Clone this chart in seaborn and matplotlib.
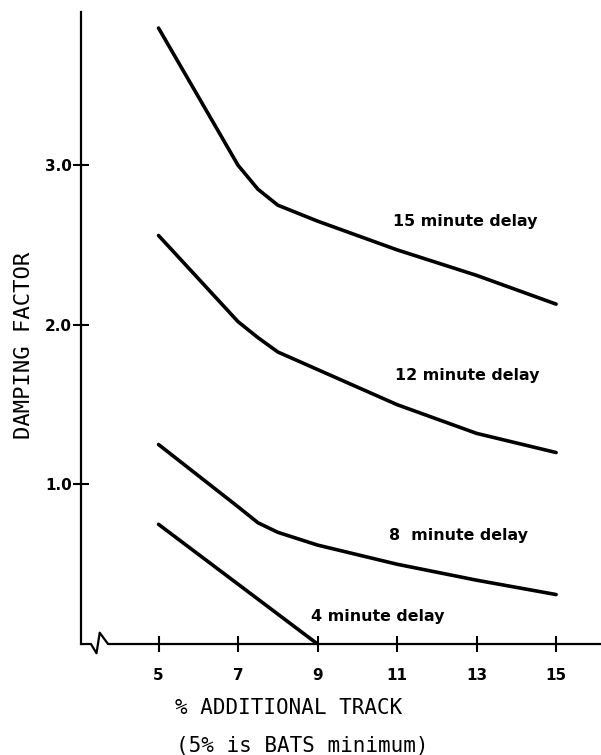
import matplotlib
matplotlib.use("Agg")
import matplotlib.pyplot as plt
import seaborn as sns
import pandas as pd

# valores
track = [5, 7, 7.5, 8, 9, 11, 13, 15]
delay_15 = [3.86, 3.0, 2.85, 2.75, 2.65, 2.47, 2.31, 2.13]
delay_12 = [2.56, 2.02, 1.92, 1.83, 1.72, 1.50, 1.32, 1.20]
delay_8 = [1.25, 0.86, 0.76, 0.70, 0.62, 0.50, 0.40, 0.31]
track_4 = [5, 9]
delay_4 = [0.75, 0.0]

x_ticks = [5, 7, 9, 11, 13, 15]
y_ticks = [1.0, 2.0, 3.0]
y_tick_labels = ["1.0", "2.0", "3.0"]

df = pd.concat([
    pd.DataFrame({"track": track, "factor": delay_15, "curva": "15"}),
    pd.DataFrame({"track": track, "factor": delay_12, "curva": "12"}),
    pd.DataFrame({"track": track, "factor": delay_8, "curva": "8"}),
    pd.DataFrame({"track": track_4, "factor": delay_4, "curva": "4"}),
])

sns.set_style("white", {"text.color": "black", "xtick.color": "black",
                        "ytick.color": "black", "axes.labelcolor": "black"})
fig = plt.figure(figsize=(6.01, 7.55), dpi=100)
ax = fig.add_axes([0.1348, 0.147, 0.8652, 0.837])

sns.lineplot(data=df, x="track", y="factor", hue="curva", units="curva",
             estimator=None, palette=["black"] * 4, legend=False,
             linewidth=2.6, solid_capstyle="round", ax=ax)

ax.set_xlim(3.05, 16.13)
ax.set_ylim(0, 3.96)

# etiquetas de las curvas
etiquetas = [("15 minute delay", 10.9, 2.65), ("12 minute delay", 10.95, 1.68),
             ("8  minute delay", 10.8, 0.68), ("4 minute delay", 8.83, 0.17)]
for txt, tx, ty in etiquetas:
    ax.text(tx, ty, txt, fontsize=11.4, fontweight="bold", va="center", ha="left",
            color="black")

# ejes
for lado in ["top", "right", "bottom"]:
    ax.spines[lado].set_visible(False)
ax.spines["left"].set_linewidth(1.6)
ax.spines["left"].set_color("black")
ax.plot([3.05, 3.30, 3.44, 3.52, 3.73, 16.13], [0, 0, -0.058, 0.071, 0, 0],
        color="black", linewidth=1.6, clip_on=False)

ax.set_xticks(x_ticks)
ax.set_xticklabels([str(v) for v in x_ticks], fontsize=11, fontweight="bold")
ax.set_yticks(y_ticks)
ax.set_yticklabels(y_tick_labels, fontsize=11, fontweight="bold")
ax.tick_params(axis="x", direction="inout", length=11, width=1.5, pad=12, bottom=True)
ax.tick_params(axis="y", direction="inout", length=11, width=1.5, pad=1, left=True)

ax.set_xlabel("")
ax.set_ylabel("")
fig.text(24 / 601, 1 - 345 / 755, "DAMPING FACTOR", fontsize=16, rotation=90,
         family="DejaVu Sans Mono", ha="center", va="center", color="black")
fig.text(289 / 601, 1 - 708 / 755, "% ADDITIONAL TRACK", fontsize=15,
         family="DejaVu Sans Mono", ha="center", va="center", color="black")
fig.text(302 / 601, 1 - 746 / 755, "(5% is BATS minimum)", fontsize=15,
         family="DejaVu Sans Mono", ha="center", va="center", color="black")

fig.savefig("out.png", dpi=100)
